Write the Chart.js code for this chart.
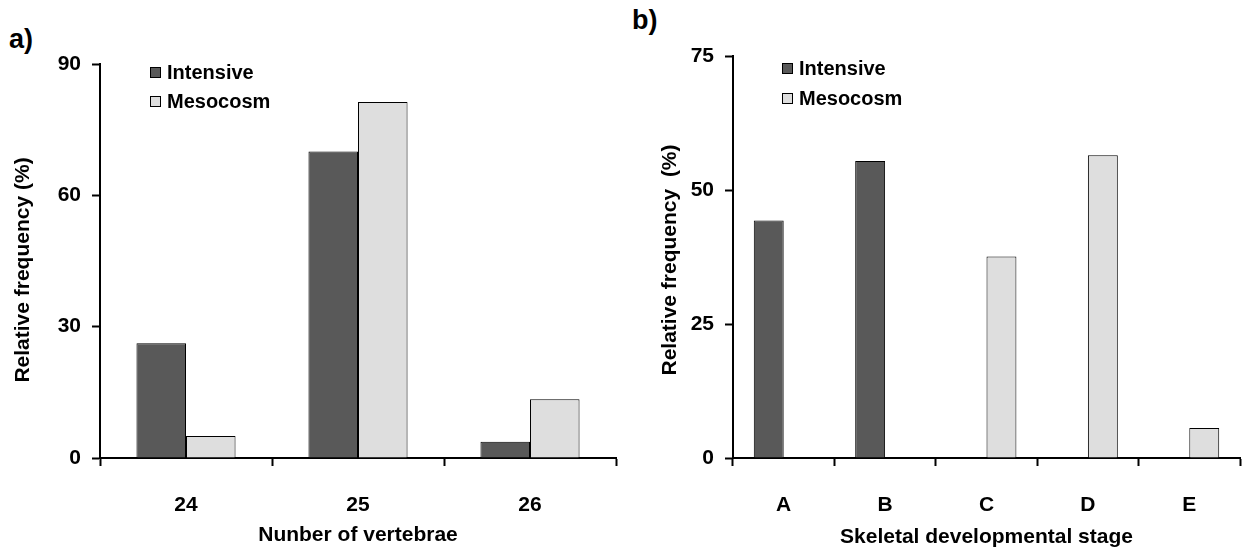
<!DOCTYPE html>
<html>
<head>
<meta charset="utf-8">
<script src="https://cdn.jsdelivr.net/npm/chart.js@4.4.1/dist/chart.umd.min.js"></script>
<style>
  body { margin: 0; background: #fff; width: 1246px; height: 552px; position: relative; overflow: hidden; font-family: "Liberation Sans", Arial, sans-serif; }
  .box { position: absolute; top: 0; }
  .tag { position: absolute; font-weight: bold; font-size: 27px; line-height: 1; color: #000; }
</style>
</head>
<body>
<div class="tag" style="left:9px;top:26px">a)</div>
<div class="tag" style="left:632px;top:7px">b)</div>
<div class="box" style="left:0"><canvas id="chartA" width="626" height="552"></canvas></div>
<div class="box" style="left:626px"><canvas id="chartB" width="620" height="552"></canvas></div>

<script>
// panel a) - numero de vertebras
const vertebraeLabels = ['24', '25', '26'];
const vertebraeIntensive = [26.2, 70, 3.7];
const vertebraeMesocosm = [5, 81.3, 13.4];
const vertebraeTicks = [0, 30, 60, 90];

// panel b) - estadio de desarrollo esqueletico
const stageLabels = ['A', 'B', 'C', 'D', 'E'];
const stageIntensive = [44.3, 55.4, null, null, null];
const stageMesocosm = [null, null, 37.6, 56.5, 5.6];
const stageTicks = [0, 25, 50, 75];

const seriesNames = ['Intensive', 'Mesocosm'];
const DARK = '#595959';
const LIGHT = '#dedede';
const FONT = 'Liberation Sans';

// leyenda dentro del area del grafico
const insideLegend = {
  id: 'insideLegend',
  afterDraw(chart, args, opts) {
    const ctx = chart.ctx;
    const a = chart.chartArea;
    ctx.save();
    chart.data.datasets.forEach((ds, i) => {
      const x = a.left + opts.dx;
      const y = a.top + opts.dy + i * opts.gap;
      ctx.fillStyle = ds.backgroundColor;
      ctx.fillRect(x, y - 5.5, 11, 11);
      ctx.strokeStyle = '#000';
      ctx.lineWidth = 1;
      ctx.strokeRect(x + 0.5, y - 5, 10, 10);
      ctx.fillStyle = '#000';
      ctx.font = 'bold 20px "' + FONT + '"';
      ctx.textBaseline = 'middle';
      ctx.fillText(ds.label, x + 17, y + 1);
    });
    ctx.restore();
  }
};

// titulo del eje Y (girado), un poco desplazado respecto al centro del eje
const yTitle = {
  id: 'yTitle',
  afterDraw(chart, args, opts) {
    const ctx = chart.ctx;
    const a = chart.chartArea;
    ctx.save();
    ctx.translate(opts.x, (a.top + a.bottom) / 2 + opts.shift);
    ctx.rotate(-Math.PI / 2);
    ctx.fillStyle = '#000';
    ctx.font = 'bold 21px "' + FONT + '"';
    ctx.textAlign = 'center';
    ctx.textBaseline = 'middle';
    ctx.fillText(opts.text, 0, 0);
    ctx.restore();
  }
};

function makeChart(id, labels, intensive, mesocosm, ticks, cfg) {
  const ctx = document.getElementById(id).getContext('2d');
  return new Chart(ctx, {
    type: 'bar',
    data: {
      labels: labels,
      datasets: [
        { label: seriesNames[0], data: intensive, backgroundColor: DARK, borderColor: '#000', borderWidth: 1 },
        { label: seriesNames[1], data: mesocosm, backgroundColor: LIGHT, borderColor: '#000', borderWidth: 1 }
      ]
    },
    options: {
      responsive: false,
      animation: false,
      layout: { padding: { top: cfg.top, right: cfg.right, left: 0, bottom: 0 } },
      datasets: { bar: { barPercentage: 1, categoryPercentage: cfg.cat } },
      plugins: {
        legend: { display: false },
        tooltip: { enabled: false },
        insideLegend: cfg.legend,
        yTitle: cfg.yTitle
      },
      scales: {
        x: {
          afterFit: s => { s.height = 94; },
          grid: { offset: true, drawOnChartArea: false, tickLength: 8, tickColor: '#000', tickWidth: 2 },
          border: { color: '#000', width: 2 },
          ticks: { color: '#000', padding: 27, font: { family: FONT, size: 21, weight: 'bold' } },
          title: { display: true, text: cfg.xTitle, color: '#000', padding: { top: 0, bottom: cfg.xTitlePad }, font: { family: FONT, size: 21, weight: 'bold' } }
        },
        y: {
          min: ticks[0],
          max: ticks[ticks.length - 1],
          afterFit: s => { s.width = cfg.yWidth; },
          afterBuildTicks: s => { s.ticks = ticks.map(v => ({ value: v })); },
          grid: { drawOnChartArea: false, tickLength: 8, tickColor: '#000', tickWidth: 2 },
          border: { color: '#000', width: 2 },
          ticks: { color: '#000', padding: 11, font: { family: FONT, size: 21, weight: 'bold' } }
        }
      }
    },
    plugins: [insideLegend, yTitle]
  });
}

makeChart('chartA', vertebraeLabels, vertebraeIntensive, vertebraeMesocosm, vertebraeTicks, {
  top: 64, right: 10, cat: 0.576, yWidth: 100, xTitlePad: 4,
  xTitle: 'Nunber of vertebrae',
  yTitle: { text: 'Relative frequency (%)', x: 23, shift: 9 },
  legend: { dx: 50, dy: 8.5, gap: 29 }
});

makeChart('chartB', stageLabels, stageIntensive, stageMesocosm, stageTicks, {
  top: 56, right: 6, cat: 0.59, yWidth: 107, xTitlePad: 2,
  xTitle: 'Skeletal developmental stage',
  yTitle: { text: 'Relative frequency  (%)', x: 44, shift: 3 },
  legend: { dx: 49, dy: 12.5, gap: 30 }
});
</script>
</body>
</html>
